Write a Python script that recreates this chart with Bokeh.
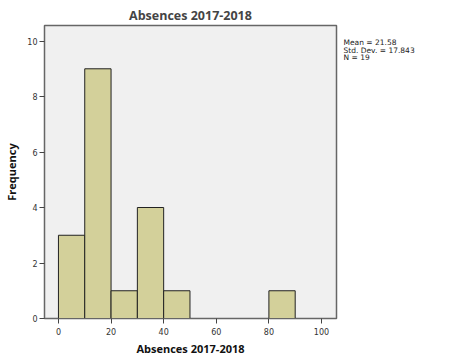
from bokeh.plotting import figure
from bokeh.models import Range1d, FixedTicker, Label, ColumnDataSource
from bokeh.layouts import row
from bokeh.embed import file_html
from bokeh.resources import INLINE

bin_left = [0, 10, 20, 30, 40, 80]
bin_right = [10, 20, 30, 40, 50, 90]
counts = [3, 9, 1, 4, 1, 1]
stats_lines = ["Mean = 21.58", "Std. Dev. = 17.843", "N = 19"]
x_ticks = [0, 20, 40, 60, 80, 100]
y_ticks = [0, 2, 4, 6, 8, 10]

src = ColumnDataSource(dict(left=bin_left, right=bin_right, top=counts, bottom=[0] * len(counts)))

p = figure(frame_width=292, frame_height=293, output_backend="svg", toolbar_location=None,
           x_range=Range1d(-5.3, 105.7), y_range=Range1d(0, 10.56),
           min_border_left=44, min_border_right=2, min_border_top=25, min_border_bottom=40)

p.quad(left="left", right="right", top="top", bottom="bottom", source=src,
       fill_color="#d3d09a", line_color="#222222", line_width=1)

p.background_fill_color = "#f0f0f0"
p.border_fill_color = "white"
p.outline_line_color = "#666666"
p.outline_line_width = 1.5
p.grid.visible = False

p.title.text = "Absences 2017-2018"
p.title.align = "center"
p.title.text_font = "Open Sans"
p.title.text_font_size = "12.5px"
p.title.text_font_style = "bold"
p.title.offset = 0
p.title.standoff = 3

p.xaxis.ticker = FixedTicker(ticks=x_ticks)
p.yaxis.ticker = FixedTicker(ticks=y_ticks)
for ax in (p.xaxis[0], p.yaxis[0]):
    ax.axis_line_color = "#666666"
    ax.major_tick_line_color = "#444444"
    ax.minor_tick_line_color = None
    ax.major_tick_out = 5
    ax.major_tick_in = 0
    ax.major_label_text_font = "DejaVu Sans"
    ax.major_label_text_font_size = "8px"
    ax.major_label_text_color = "#333333"
    ax.axis_label_text_font = "Open Sans"
    ax.axis_label_text_font_size = "11px"
    ax.axis_label_text_font_style = "bold"
    ax.axis_label_text_color = "#111111"

p.xaxis.axis_label = "Absences 2017-2018"
p.yaxis.axis_label = "Frequency"
p.xaxis.major_label_standoff = 4
p.yaxis.major_label_standoff = 2
p.xaxis.axis_label_standoff = 3
p.yaxis.axis_label_standoff = 5

# side panel holding the summary statistics (pixel-like coordinates, same frame rows as p)
q = figure(frame_width=111, frame_height=293, output_backend="svg", toolbar_location=None,
           x_range=Range1d(0, 111), y_range=Range1d(318, 25),
           min_border_left=0, min_border_right=0, min_border_top=25, min_border_bottom=40)
q.axis.visible = False
q.grid.visible = False
q.outline_line_color = None
q.background_fill_color = "white"
q.border_fill_color = "white"
for i, t in enumerate(stats_lines):
    q.add_layout(Label(x=5, y=37.5 + i * 7.6, text=t,
                       text_font="DejaVu Sans", text_font_size="7.5px", text_color="#222222",
                       text_baseline="top"))

layout = row(p, q, spacing=0)
open("out.html", "w").write(file_html(layout, INLINE))
